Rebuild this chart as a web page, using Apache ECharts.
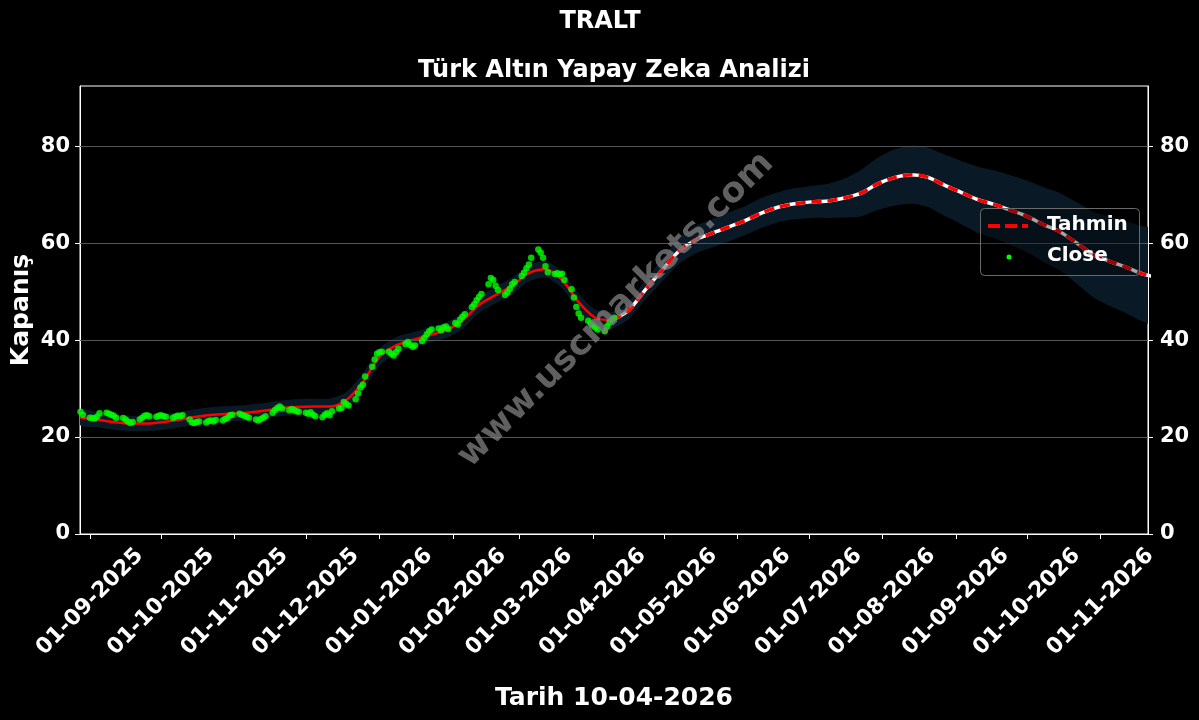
<!DOCTYPE html>
<html><head><meta charset="utf-8">
<script src="https://cdn.jsdelivr.net/npm/echarts@6/dist/echarts.min.js"></script>
<style>html,body{margin:0;padding:0;background:#000}#c{width:1199px;height:720px}</style>
</head><body><div id="c"></div>
<script>
// ---------- texts ----------
const chartTitle = 'TRALT';
const chartSubtitle = 'Türk Altın Yapay Zeka Analizi';
const xAxisTitle = 'Tarih 10-04-2026';
const yAxisTitle = 'Kapanış';
const legendNames = ['Tahmin', 'Close'];
const watermarkText = 'www.uscmarkets.com';

// ---------- x axis ----------
const axisStart = '2025-08-27';
const axisEnd = '2026-11-21';
const monthTicks = ['2025-09-01','2025-10-01','2025-11-01','2025-12-01','2026-01-01','2026-02-01','2026-03-01',
  '2026-04-01','2026-05-01','2026-06-01','2026-07-01','2026-08-01','2026-09-01','2026-10-01','2026-11-01'];
const yTicks = [0, 20, 40, 60, 80];
const yMax = 92.4;

// ---------- Close (trading days 2025-08-28 .. 2026-04-10) ----------
const closeStart = '2025-08-28';
const closeEnd = '2026-04-10';
const closeValues = [
  25.2, 24.6,
  24.0, 23.9, 23.8, 24.2, 24.9, 25.0, 24.8, 24.6, 24.4, 24.0, 23.9, 23.6, 23.2, 22.9, 23.1, 23.6, 24.0, 24.4, 24.5, 24.3, 24.2, 24.4,
  24.5, 24.3, 24.2, 24.0, 24.2, 24.4, 24.3, 24.5, 23.6, 23.0, 22.9, 23.1, 23.2, 23.0, 23.3, 23.4, 23.2, 23.5, 23.4, 23.7, 23.9, 24.5, 24.6,
  24.8, 24.6, 24.4, 24.2, 24.0, 23.6, 23.4, 23.7, 24.0, 24.3, 25.0, 25.6, 26.0, 26.3, 25.9, 25.5, 25.8, 25.6, 25.3, 25.2,
  25.0, 24.8, 25.1, 24.6, 24.3, 24.1, 24.6, 24.9, 24.5, 25.3, 25.9, 26.0, 27.2, 26.8, 26.5, 27.8, 29.0, 30.2, 30.8, 32.5, 34.5, 36.0, 37.2,
  37.5, 37.6, 37.6, 37.2, 36.8, 37.5, 38.2, 39.2, 39.6, 39.0, 38.6, 38.9, 39.8, 40.5, 41.2, 41.8, 42.2, 42.4, 42.0, 42.6, 42.8, 42.3,
  43.5, 43.2, 44.2, 44.8, 45.3, 46.8, 47.4, 48.2, 48.9, 49.5, 51.5, 52.8, 52.4, 51.2, 50.3, 49.3, 49.8, 50.6, 51.5, 52.0,
  53.2, 53.9, 54.8, 55.6, 57.0, 58.7, 58.0, 57.0, 55.2, 54.0, 53.6, 53.8, 53.5, 53.7, 52.4, 50.5, 48.8, 46.8, 45.5, 44.6, 44.0, 43.4,
  43.0, 42.6, 42.2, 41.8, 42.8, 43.6, 44.2, 44.6
];

// ---------- Tahmin (weekly from 2025-08-28) ----------
const trendStart = '2025-08-28';
const trendSplitIndex = 32; // 2026-04-09: fitted part ends, forecast starts
const trendValues = [
  24.0, 23.6, 23.1, 22.8, 22.8, 23.1, 23.6, 24.2, 24.6, 24.8, 25.0, 25.4, 25.9, 26.2, 26.3, 26.3,
  27.6, 31.3, 36.5, 38.9, 40.0, 41.0, 42.0, 44.0, 47.3, 49.3, 51.2, 53.8, 54.6, 52.4, 47.8, 44.6, 44.1,
  46.1, 50.3, 54.3, 58.2, 60.6, 62.0, 63.3, 64.6, 66.2, 67.4, 68.1, 68.5, 68.7, 69.3, 70.3, 72.2, 73.5,
  74.1, 73.6, 72.0, 70.5, 69.0, 68.0, 66.8, 65.5, 63.8, 62.3, 60.0, 57.6, 56.2, 55.0, 53.6, 52.9
];
const bandHalf = [
  1.6, 1.6, 1.6, 1.6, 1.6, 1.6, 1.6, 1.6, 1.6, 1.6, 1.6, 1.6, 1.6, 1.6, 1.6, 1.6,
  1.7, 1.8, 1.8, 1.7, 1.6, 1.6, 1.6, 1.7, 1.7, 1.7, 1.7, 1.7, 1.7, 1.7, 1.7, 1.7, 1.7,
  1.8, 2.0, 2.3, 2.6, 2.8, 2.9, 3.0, 3.0, 3.1, 3.1, 3.2, 3.3, 3.5, 4.0, 4.8, 5.4, 5.8,
  6.0, 6.1, 6.3, 6.5, 6.8, 7.0, 7.2, 7.4, 7.7, 8.0, 8.4, 8.8, 9.2, 9.5, 9.8, 10.0
];

// ---------- helpers ----------
function parseDay(s) { const p = s.split(/[- :]/).map(Number); return new Date(p[0], p[1] - 1, p[2], p[3] || 0); }
function businessDays(a, b) {
  const out = []; const d = parseDay(a); const e = parseDay(b);
  while (d <= e) { const w = d.getDay(); if (w !== 0 && w !== 6) out.push(d.getTime()); d.setDate(d.getDate() + 1); }
  return out;
}
function weekly(a, n) {
  const out = []; const d = parseDay(a);
  for (let i = 0; i < n; i++) { out.push(d.getTime()); d.setDate(d.getDate() + 7); }
  return out;
}
function fmtDay(v) {
  const d = new Date(v); const p = n => (n < 10 ? '0' : '') + n;
  return p(d.getDate()) + '-' + p(d.getMonth() + 1) + '-' + d.getFullYear();
}
const closeDates = businessDays(closeStart, closeEnd);
const trendDates = weekly(trendStart, trendValues.length);
const closeData = closeValues.map((v, i) => [closeDates[i], v]);
const trendData = trendValues.map((v, i) => [trendDates[i], v]);
const pastData = trendData.slice(0, trendSplitIndex + 1);
const futureData = trendData.slice(trendSplitIndex);
const bandUpper = trendValues.map((v, i) => [trendDates[i], v + bandHalf[i]]);
const bandLower = trendValues.map((v, i) => [trendDates[i], v - bandHalf[i]]);
const tickTimes = monthTicks.map(s => parseDay(s).getTime());

const FONT = 'DejaVu Sans';
const chart = echarts.init(document.getElementById('c'), null, { renderer: 'canvas' });
const yAxisCommon = {
  type: 'value', min: 0, max: yMax,
  axisLine: { show: true, lineStyle: { color: '#fff', width: 1 } },
  axisTick: { show: true, length: 5, lineStyle: { color: '#fff' }, customValues: yTicks },
  axisLabel: { color: '#fff', fontFamily: FONT, fontWeight: 'bold', fontSize: 21, customValues: yTicks },
};
chart.setOption({
  backgroundColor: '#000',
  animation: false,
  title: [
    { text: chartTitle, left: 600, textAlign: 'center', top: 10, padding: 0,
      textStyle: { color: '#fff', fontFamily: FONT, fontWeight: 'bold', fontSize: 24 } },
    { text: chartSubtitle, left: 614, textAlign: 'center', top: 59, padding: 0,
      textStyle: { color: '#fff', fontFamily: FONT, fontWeight: 'bold', fontSize: 24 } }
  ],
  grid: { left: 80, right: 51, top: 86, bottom: 186, containLabel: false, outerBoundsMode: 'none',
    show: true, borderColor: '#fff', borderWidth: 1, backgroundColor: 'transparent' },
  xAxis: {
    type: 'value', min: parseDay(axisStart).getTime() + 19 * 3600e3, max: parseDay(axisEnd).getTime(),
    name: xAxisTitle, nameLocation: 'middle', nameGap: 152, nameMoveOverlap: false,
    nameTextStyle: { color: '#fff', fontFamily: FONT, fontWeight: 'bold', fontSize: 25 },
    axisLine: { show: true, lineStyle: { color: '#fff' } },
    axisTick: { show: true, length: 5, lineStyle: { color: '#fff' }, customValues: tickTimes },
    splitLine: { show: false },
    axisLabel: {
      customValues: tickTimes, rotate: 45, align: 'center', verticalAlign: 'middle', margin: 68,
      color: '#fff', fontFamily: FONT, fontWeight: 'bold', fontSize: 22,
      formatter: v => fmtDay(v)
    }
  },
  yAxis: [
    Object.assign({}, yAxisCommon, {
      position: 'left', name: yAxisTitle, nameLocation: 'middle', nameGap: 46, nameMoveOverlap: false,
      nameTextStyle: { color: '#fff', fontFamily: FONT, fontWeight: 'bold', fontSize: 25 },
      axisLabel: Object.assign({}, yAxisCommon.axisLabel, { margin: 10 }),
      splitLine: { show: false }
    }),
    Object.assign({}, yAxisCommon, {
      position: 'right',
      axisLabel: Object.assign({}, yAxisCommon.axisLabel, { margin: 12 }),
      splitLine: { show: false }
    })
  ],
  series: [
    { type: 'custom', name: 'band', silent: true, clip: true, z: 1,
      data: [trendData[0]],
      renderItem: (params, api) => {
        const up = bandUpper.map(p => api.coord(p));
        const lo = bandLower.map(p => api.coord(p)).reverse();
        return {
          type: 'group', children: [
            { type: 'polygon', shape: { points: up.concat(lo), smooth: 0.25 }, style: { fill: '#091a26' } }
          ]
        };
      }
    },
    { type: 'line', name: 'fit', data: pastData, smooth: 0.3, symbol: 'none', silent: true,
      lineStyle: { color: '#ff0000', width: 2.5 }, z: 3,
      markLine: { silent: true, symbol: 'none', label: { show: false },
        lineStyle: { color: '#555', width: 1, type: 'solid' },
        data: yTicks.slice(1).map(v => ({ yAxis: v })) } },
    { type: 'line', name: 'forecastBase', data: futureData, smooth: 0.3, symbol: 'none', silent: true,
      lineStyle: { color: '#ffffff', width: 3.5 }, z: 3 },
    { type: 'line', name: legendNames[0], data: futureData, smooth: 0.3, symbol: 'none', silent: true,
      lineStyle: { color: '#ff0000', width: 3.5, type: [10, 6] }, z: 4 },
    { type: 'scatter', name: legendNames[1], data: closeData, symbolSize: 6.5, silent: true,
      itemStyle: { color: '#00ff00' }, z: 5 }
  ],
  graphic: [
    { type: 'text', x: 616, y: 310, rotation: Math.PI / 4, z: 100,
      style: { text: watermarkText, fill: 'rgba(128,128,128,0.75)', font: 'bold 35px "DejaVu Sans"',
        textAlign: 'center', textVerticalAlign: 'middle' } },
    { type: 'rect', z: 101, shape: { x: 980.5, y: 208.5, width: 159, height: 67, r: 4 },
      style: { fill: 'rgba(0,0,0,0.35)', stroke: '#6a6a6a', lineWidth: 1 } },
    { type: 'line', z: 102, shape: { x1: 988, y1: 226, x2: 1028, y2: 226 },
      style: { stroke: '#ff0000', lineWidth: 4, lineDash: [12, 5] } },
    { type: 'circle', z: 102, shape: { cx: 1009, cy: 257, r: 2.5 }, style: { fill: '#00ff00' } },
    { type: 'text', z: 102, x: 1047, y: 225,
      style: { text: legendNames[0], fill: '#fff', font: 'bold 20px "DejaVu Sans"', textVerticalAlign: 'middle' } },
    { type: 'text', z: 102, x: 1047, y: 256,
      style: { text: legendNames[1], fill: '#fff', font: 'bold 20px "DejaVu Sans"', textVerticalAlign: 'middle' } }
  ]
});
</script>
</body></html>
